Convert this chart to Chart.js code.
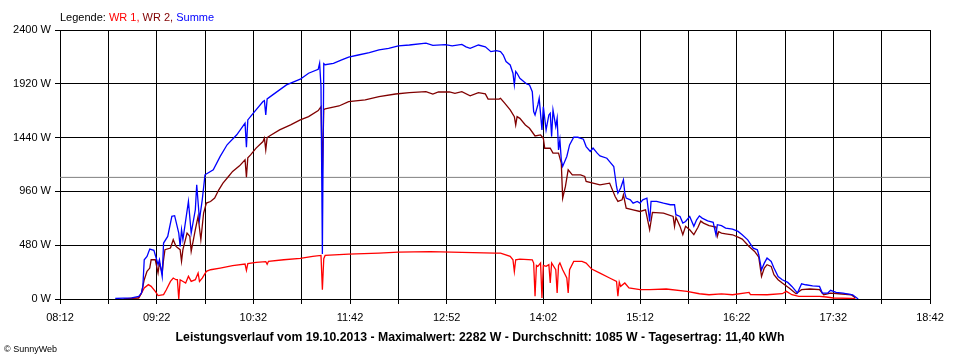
<!DOCTYPE html>
<html>
<head>
<meta charset="utf-8">
<script src="https://cdn.jsdelivr.net/npm/chart.js@4.4.1/dist/chart.umd.min.js"></script>
<style>
  body { margin: 0; background: #fff; }
  #wrap { position: relative; width: 960px; height: 360px; font-family: "Liberation Sans", Arial, sans-serif; }
  #legend { position: absolute; left: 60px; top: 11px; font-size: 11px; }
  #caption { position: absolute; left: 0; width: 960px; top: 329px; text-align: center; font-size: 13px; font-weight: bold; transform: scaleX(0.943); transform-origin: 480px 0; }
  #copy { position: absolute; left: 4px; top: 344px; font-size: 9px; }
</style>
</head>
<body>
<div id="wrap">
  <canvas id="powerChart" width="960" height="360"></canvas>
  <div id="legend">Legende: <span style="color:#ff0000">WR 1,</span> <span style="color:#800000">WR 2,</span> <span style="color:#0000ff">Summe</span></div>
  <div id="caption">Leistungsverlauf vom 19.10.2013 - Maximalwert: 2282 W - Durchschnitt: 1085 W - Tagesertrag: 11,40 kWh</div>
  <div id="copy">© SunnyWeb</div>
</div>
<script>
// axis range 08:12 - 18:42, ticks every 35 min
const startTime = "08:12";
const endTime = "18:42";
const yTicks = [0, 480, 960, 1440, 1920, 2400];
const average = 1085;

// Summe (blue)
const summeTimes = ["08:52","09:04","09:09","09:11","09:12","09:13","09:15","09:17","09:20","09:22","09:23","09:24","09:26","09:27","09:30","09:33","09:35","09:38","09:39","09:40","09:41","09:45","09:47","09:50","09:51","09:53","09:55","09:57","10:03","10:08","10:13","10:20","10:26","10:27","10:28","10:32","10:39","10:40","10:41","10:42","10:47","10:56","11:06","11:12","11:19","11:20","11:21","11:22","11:23","11:24","11:30","11:36","11:41","11:48","11:56","12:03","12:10","12:17","12:25","12:37","12:42","12:51","12:56","13:03","13:06","13:09","13:15","13:20","13:24","13:28","13:31","13:33","13:35","13:38","13:40","13:41","13:42","13:43","13:45","13:48","13:50","13:52","13:54","13:55","13:56","13:57","13:58","13:59","14:01","14:02","14:04","14:06","14:07","14:08","14:09","14:11","14:12","14:13","14:14","14:15","14:16","14:19","14:21","14:24","14:27","14:31","14:33","14:36","14:38","14:41","14:43","14:48","14:50","14:53","14:54","14:55","14:56","14:58","15:00","15:01","15:02","15:05","15:07","15:10","15:12","15:14","15:17","15:19","15:20","15:24","15:29","15:34","15:37","15:38","15:41","15:43","15:45","15:48","15:51","15:53","15:55","15:57","16:01","16:05","16:07","16:08","16:11","16:14","16:19","16:23","16:26","16:30","16:34","16:37","16:38","16:40","16:42","16:44","16:47","16:49","16:52","16:55","16:59","17:02","17:05","17:06","17:09","17:12","17:17","17:22","17:24","17:28","17:30","17:34","17:39","17:46","17:50"];
const summeValues = [5,10,24,53,113,350,380,446,434,350,306,350,202,499,558,737,743,588,469,618,529,870,588,796,1019,707,885,1108,1153,1272,1376,1465,1569,1355,1598,1658,1762,1770,1643,1785,1830,1910,1961,2014,2050,2103,1895,401,2100,2090,2103,2133,2157,2177,2198,2222,2237,2258,2266,2282,2263,2270,2258,2272,2250,2237,2266,2250,2207,2216,2207,2177,2118,2088,2014,1910,2030,2014,1969,1939,1919,1910,1850,1672,1642,1687,1731,1791,1509,1716,1509,1642,1657,1449,1687,1538,1612,1330,1420,1242,1183,1272,1375,1443,1443,1426,1360,1316,1346,1301,1277,1256,1226,1182,1093,1004,945,990,1064,945,900,885,855,871,855,885,900,692,871,871,855,841,841,752,737,677,692,737,648,707,742,722,698,684,573,663,654,633,624,603,573,528,454,439,395,261,320,365,335,276,201,172,148,112,68,53,136,127,118,112,53,53,77,59,53,38,0];

// WR 2 (dark red)
const wr2Times = ["08:58","09:09","09:11","09:13","09:15","09:17","09:18","09:21","09:23","09:24","09:26","09:27","09:28","09:32","09:34","09:36","09:39","09:40","09:41","09:44","09:46","09:47","09:50","09:52","09:54","09:56","09:58","10:01","10:04","10:07","10:10","10:14","10:17","10:22","10:26","10:27","10:28","10:30","10:34","10:39","10:40","10:41","10:42","10:44","10:51","10:59","11:06","11:12","11:19","11:21","11:22","11:23","11:24","11:34","11:41","11:53","12:03","12:15","12:25","12:37","12:42","12:46","12:54","12:58","13:03","13:09","13:15","13:20","13:22","13:30","13:31","13:34","13:38","13:41","13:42","13:43","13:45","13:49","13:52","13:56","14:00","14:02","14:03","14:07","14:09","14:13","14:15","14:16","14:18","14:20","14:23","14:29","14:32","14:33","14:38","14:43","14:50","14:54","14:56","14:59","15:00","15:02","15:07","15:12","15:16","15:19","15:21","15:29","15:36","15:37","15:38","15:41","15:43","15:45","15:48","15:51","15:54","15:56","15:58","16:02","16:07","16:08","16:09","16:11","16:14","16:19","16:23","16:26","16:31","16:35","16:38","16:40","16:42","16:44","16:47","16:49","16:52","16:55","17:00","17:05","17:09","17:15","17:22","17:25","17:30","17:36","17:45","17:48"];
const wr2Values = [2,10,53,172,247,276,350,350,232,321,232,350,440,455,529,469,440,336,440,588,559,425,618,737,529,767,856,870,900,974,1034,1093,1138,1188,1242,1087,1260,1286,1346,1405,1435,1331,1440,1456,1509,1554,1598,1627,1681,1716,1123,1690,1696,1722,1761,1776,1806,1829,1841,1850,1829,1847,1847,1835,1850,1812,1841,1830,1783,1783,1791,1747,1687,1627,1553,1627,1612,1553,1523,1455,1464,1434,1345,1345,1301,1301,1212,900,1004,1153,1108,1108,1093,1049,1034,1019,1034,915,871,885,930,811,796,781,796,618,773,766,737,648,730,648,574,648,618,574,640,695,677,654,642,559,600,588,582,573,552,535,469,424,374,201,276,306,291,217,172,142,98,47,83,89,83,38,53,47,38,9];

// WR 1 (red)
const wr1Times = ["09:00","09:09","09:11","09:13","09:16","09:18","09:21","09:23","09:27","09:29","09:32","09:34","09:36","09:37","09:38","09:39","09:43","09:45","09:47","09:50","09:52","09:53","09:55","09:58","10:01","10:08","10:17","10:26","10:27","10:28","10:34","10:41","10:42","10:43","10:54","11:06","11:15","11:21","11:22","11:23","11:24","11:41","12:03","12:17","12:40","13:03","13:27","13:31","13:38","13:40","13:41","13:42","13:45","13:54","13:55","13:56","13:57","13:58","14:00","14:01","14:02","14:04","14:06","14:07","14:08","14:11","14:12","14:13","14:14","14:16","14:19","14:20","14:21","14:24","14:30","14:33","14:37","14:43","14:50","14:55","14:56","14:57","14:58","15:01","15:04","15:12","15:19","15:31","15:46","15:55","16:02","16:11","16:19","16:31","16:32","16:44","16:55","16:58","17:02","17:07","17:12","17:22","17:27","17:32","17:45","17:48"];
const wr1Values = [2,10,53,98,128,113,68,30,39,83,157,187,172,172,0,172,143,202,157,172,232,157,187,247,261,276,297,312,255,315,327,334,310,336,350,362,380,389,83,360,389,401,410,419,422,416,410,410,380,350,246,350,356,350,321,24,300,291,321,9,300,291,306,143,321,261,53,300,321,261,187,53,261,335,335,321,267,231,187,157,24,150,113,143,98,83,83,89,68,47,38,45,38,59,40,38,47,68,38,24,24,24,18,9,5,0];

function toMin(t) {
    const parts = t.split(":").map(Number);
    return parts[0] * 60 + parts[1];
}

const offset = toMin(startTime);

function points(times, values) {
    return times.map((t, i) => ({ x: toMin(t) - offset, y: values[i] }));
}

function fmt(v) {
    const m = v + offset;
    let h = Math.floor(m / 60);
    let mm = m % 60;
    if (h < 10) h = "0" + h;
    if (mm < 10) mm = "0" + mm;
    return h + ":" + mm;
}

const fontSpec = { family: "'Liberation Sans', Arial, sans-serif", size: 11 };

new Chart("powerChart", {
    type: "line",
    data: {
        datasets: [
            { label: "Summe", data: points(summeTimes, summeValues), borderColor: "#0000ff" },
            { label: "WR 2", data: points(wr2Times, wr2Values), borderColor: "#800000" },
            { label: "WR 1", data: points(wr1Times, wr1Values), borderColor: "#ff0000" },
            { label: "avg", data: [{ x: 0, y: average }, { x: toMin(endTime) - offset, y: average }], borderColor: "#808080", borderWidth: 1 }
        ]
    },
    options: {
        responsive: false,
        animation: false,
        events: [],
        layout: { padding: { top: 30, right: 30, left: 0, bottom: 0 } },
        elements: {
            point: { radius: 0 },
            line: { borderWidth: 1.3, tension: 0 }
        },
        plugins: {
            legend: { display: false },
            tooltip: { enabled: false }
        },
        scales: {
            x: {
                type: "linear",
                min: 0,
                max: toMin(endTime) - offset,
                afterFit: (scale) => { scale.height = 61; },
                grid: { color: "#000", lineWidth: 1, tickLength: 5 },
                border: { color: "#000" },
                ticks: {
                    stepSize: 35,
                    autoSkip: false,
                    maxRotation: 0,
                    padding: 7,
                    color: "#000",
                    font: fontSpec,
                    callback: (v) => (v % 70 === 0 ? fmt(v) : "")
                }
            },
            y: {
                min: yTicks[0],
                max: yTicks[yTicks.length - 1],
                afterFit: (scale) => { scale.width = 60; },
                grid: { color: "#000", lineWidth: 1, tickLength: 5 },
                border: { color: "#000" },
                ticks: {
                    stepSize: yTicks[1] - yTicks[0],
                    padding: 4,
                    color: "#000",
                    font: fontSpec,
                    callback: (v) => v + " W"
                }
            }
        }
    }
});
</script>
</body>
</html>
